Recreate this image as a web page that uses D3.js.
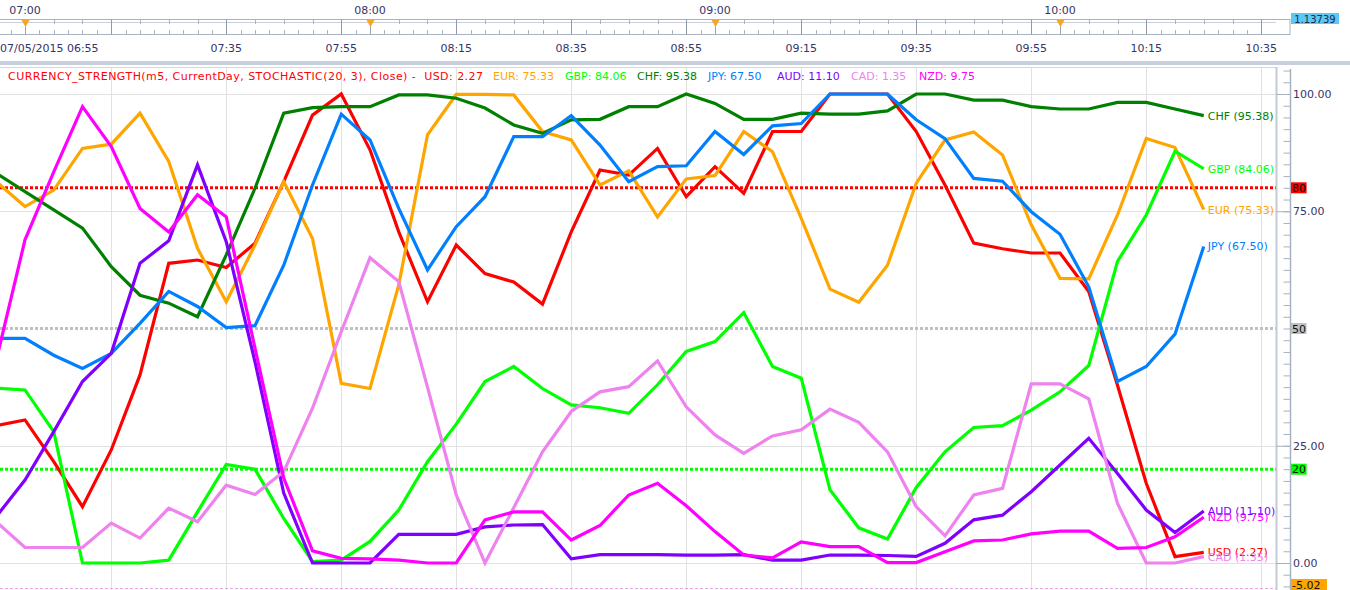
<!DOCTYPE html>
<html>
<head>
<meta charset="utf-8">
<script src="https://cdn.jsdelivr.net/npm/d3@7"></script>
<style>
  body { margin: 0; background: #fff; overflow: hidden; }
  text { font-family: "DejaVu Sans", Verdana, sans-serif; white-space: pre; }
</style>
</head>
<body>
<svg id="mainsvg" width="1350" height="590"></svg>
<script>
// values, one per 5 minute bar, 06:55 .. 10:25
const usd = [29.3, 30.5, 21.6, 12.0, 24.1, 40.1, 63.9, 64.6, 63.0, 68.2, 81.3, 95.5,
  100, 88.1, 70.6, 55.7, 67.8, 61.7, 59.9, 55.2, 70.6,
  83.8, 82.7, 88.4, 78.1, 84.5, 78.8, 92.0, 92.0, 100, 100, 100,
  92.0, 80.6, 68.2, 67.0, 66.1, 66.1, 57.9, 37.9, 17.0, 1.35, 2.27];
const eur = [81.3, 76.0, 79.5, 88.4, 89.3, 95.9, 85.6, 67.1, 55.7, 67.8, 81.3, 69.2,
  38.3, 37.2, 59.3, 91.3, 99.9, 99.9, 99.8, 92.0, 90.2,
  80.6, 83.6, 73.8, 81.9, 82.6, 92.0, 87.7, 73.5, 58.4, 55.6, 63.5,
  81.0, 90.2, 91.9, 87.0, 72.1, 60.7, 60.6, 74.2, 90.5, 88.6, 75.33];
const gbp = [37.3, 36.9, 28.0, 0, 0, 0, 0.6, 10.9, 21.0, 20.0, 9.5, 0.3,
  0.6, 4.6, 11.3, 21.6, 29.6, 38.7, 41.9, 37.2, 33.7,
  33.1, 31.9, 38.0, 45.1, 47.2, 53.4, 41.9, 39.4, 15.6, 7.5, 5.1,
  16.1, 23.7, 28.9, 29.3, 32.6, 36.5, 42.1, 64.3, 74.2, 87.8, 84.06];
const chf = [83.1, 79.2, 75.3, 71.4, 63.2, 57.1, 55.4, 52.5, 65.7, 79.9, 95.9, 97.1,
  97.3, 97.3, 99.8, 99.8, 99.1, 97.0, 93.4, 91.6, 94.5,
  94.6, 97.3, 97.3, 100, 98.0, 94.6, 94.6, 95.9, 95.7, 95.7, 96.4,
  100, 100, 98.7, 98.7, 97.3, 96.8, 96.8, 98.2, 98.2, 96.8, 95.38];
const jpy = [47.9, 47.9, 44.3, 41.5, 44.7, 51.1, 57.9, 54.7, 50.2, 50.6, 63.5, 80.6,
  95.7, 90.2, 75.6, 62.5, 71.7, 78.1, 90.9, 90.9, 95.4,
  89.1, 81.3, 84.5, 84.7, 92.0, 87.1, 93.2, 93.7, 100, 100, 100,
  94.5, 90.5, 82.0, 81.4, 74.9, 70.1, 58.9, 38.7, 41.9, 48.8, 67.50];
const aud = [9.9, 17.7, 28.0, 38.7, 44.7, 63.9, 68.7, 84.9, 68.5, 42.9, 14.9, 0,
  0, 0, 6.1, 6.1, 6.1, 7.7, 8.1, 8.2, 0.9,
  1.8, 1.8, 1.8, 1.7, 1.7, 1.8, 0.6, 0.6, 1.7, 1.7, 1.6,
  1.4, 4.2, 9.2, 10.2, 15.2, 20.9, 26.6, 19.1, 11.3, 6.5, 11.10];
const cad = [8.8, 3.3, 3.3, 3.3, 8.5, 5.3, 11.7, 8.8, 16.6, 14.6, 19.5, 33.0,
  49.3, 65.1, 60.0, 37.5, 14.5, 0, 11.8, 23.7, 32.3,
  36.5, 37.6, 43.1, 33.3, 27.3, 23.4, 27.1, 28.4, 32.8, 30.0, 23.7,
  12.0, 5.8, 14.5, 15.9, 38.2, 38.2, 35.0, 12.7, 0, 0, 1.35];
const nzd = [43.2, 68.9, 83.4, 97.3, 88.8, 75.6, 70.6, 78.5, 73.8, 45.8, 18.1, 2.6,
  1.0, 0.9, 0.6, 0, 0, 9.2, 10.9, 10.9, 4.9,
  8.0, 14.5, 17.0, 12.2, 6.7, 1.7, 1.1, 4.5, 3.5, 3.5, 0.1,
  0.1, 2.4, 4.7, 4.9, 6.2, 6.8, 6.8, 3.1, 3.3, 5.6, 9.75];

const currencies = ['USD', 'EUR', 'GBP', 'CHF', 'JPY', 'AUD', 'CAD', 'NZD'];
const seriesValues = [usd, eur, gbp, chf, jpy, aud, cad, nzd];
const levels = [80, 50, 20];
const axisLabels = [100, 75, 25, 0];
const lowValue = -5.02;
const priceLabel = '1.13739';
const dateLabel = '07/05/2015 06:55';
const indicatorName = 'CURRENCY_STRENGTH(m5, CurrentDay, STOCHASTIC(20, 3), Close) -  ';

(function () {
  const colors = ['#ff0000', '#ffa500', '#00ff00', '#008000', '#0080ff', '#8000ff', '#ee82ee', '#ff00ff'];
  const levelColors = ['#ff0000', '#c0c0c0', '#00ff00'];
  const headerX = [8, 493, 565, 637, 708, 777, 851, 919];
  const inkColor = '#34346a';

  const svg = d3.select('#mainsvg'),
    width = Number(svg.attr('width')),
    height = Number(svg.attr('height'));

  const panel = { left: 0, right: 1276, top: 67, bottom: 590 },
    axisX = 1290;

  const t0 = new Date(2015, 4, 7, 6, 55),
    tEnd = d3.timeMinute.offset(t0, 220);
  const times = usd.map((d, i) => d3.timeMinute.offset(t0, 5 * i));

  const xScale = d3.scaleTime().domain([t0, tEnd]).range([-3.75, 1261.25]);
  const yScale = d3.scaleLinear().domain([0, 100]).range([563, 94]);

  svg.append('rect').attr('width', width).attr('height', height).attr('fill', '#fff');

  // ---- time strip on top ----
  const strip = svg.append('g').attr('id', 'strip');
  const hours = d3.timeHour.range(new Date(2015, 4, 7, 7, 0), d3.timeMinute.offset(tEnd, 1));
  const twenty = d3.range(20, 221, 20).map(m => d3.timeMinute.offset(t0, m));
  const fives = d3.range(0, 221, 5).map(m => d3.timeMinute.offset(t0, m));
  const halfFives = d3.range(0, 221, 2.5).map(m => d3.timeSecond.offset(t0, m * 60));

  strip.selectAll('text.hour')
    .data(hours)
    .join('text')
    .attr('class', 'hour')
    .attr('x', d => xScale(d))
    .attr('y', 14)
    .attr('text-anchor', 'middle')
    .attr('font-size', '11px')
    .attr('fill', inkColor)
    .text(d3.timeFormat('%H:%M'));

  strip.append('rect')
    .attr('x', -1).attr('y', 19.5).attr('width', axisX + 1).attr('height', 15)
    .attr('fill', '#fff').attr('stroke', '#a9b3bf');
  strip.append('line')
    .attr('x1', 0).attr('x2', panel.right).attr('y1', 22.5).attr('y2', 22.5)
    .attr('stroke', '#c9d0d9');

  strip.selectAll('line.bt')
    .data(halfFives.filter(d => xScale(d) < panel.right))
    .join('line')
    .attr('class', 'bt')
    .attr('x1', d => Math.round(xScale(d)) + 0.5).attr('x2', d => Math.round(xScale(d)) + 0.5)
    .attr('y1', 30).attr('y2', 34.5)
    .attr('stroke', '#aab3be');
  strip.selectAll('line.tt')
    .data(fives.filter(d => xScale(d) < panel.right))
    .join('line')
    .attr('class', 'tt')
    .attr('x1', d => Math.round(xScale(d)) + 0.5).attr('x2', d => Math.round(xScale(d)) + 0.5)
    .attr('y1', 19.5).attr('y2', 24)
    .attr('stroke', '#aab3be');
  strip.selectAll('line.mt')
    .data(twenty)
    .join('line')
    .attr('class', 'mt')
    .attr('x1', d => Math.round(xScale(d)) + 0.5).attr('x2', d => Math.round(xScale(d)) + 0.5)
    .attr('y1', 19.5).attr('y2', 34.5)
    .attr('stroke', '#8e98a6');

  hours.forEach(h => {
    const hx = Math.round(xScale(h)) + 0.5;
    strip.append('line').attr('x1', hx).attr('x2', hx).attr('y1', 26).attr('y2', 34.5).attr('stroke', '#9aa3ae');
    strip.append('path')
      .attr('d', `M${hx - 4},20 L${hx + 4},20 L${hx},27 Z`)
      .attr('fill', '#f5a623');
  });

  strip.append('rect')
    .attr('x', 1291).attr('y', 13).attr('width', 48).attr('height', 11)
    .attr('fill', '#5cc8f6');
  strip.append('text')
    .attr('x', 1315).attr('y', 22.5).attr('text-anchor', 'middle')
    .attr('font-size', '10px').attr('fill', '#1e2a4a')
    .text(priceLabel);

  strip.append('text')
    .attr('x', 0).attr('y', 52)
    .attr('font-size', '11px').attr('fill', inkColor)
    .text(dateLabel);
  strip.selectAll('text.tl')
    .data(twenty.slice(1))
    .join('text')
    .attr('class', 'tl')
    .attr('x', d => xScale(d))
    .attr('y', 52)
    .attr('text-anchor', 'middle')
    .attr('font-size', '11px')
    .attr('fill', inkColor)
    .text(d3.timeFormat('%H:%M'));

  svg.append('rect')
    .attr('x', 0).attr('y', 61).attr('width', width).attr('height', 4)
    .attr('fill', '#c6cfdb');

  // ---- indicator panel ----
  svg.append('clipPath').attr('id', 'clip')
    .append('rect')
    .attr('x', panel.left).attr('y', panel.top)
    .attr('width', panel.right - panel.left).attr('height', panel.bottom - panel.top);

  const g = svg.append('g').attr('id', 'maingroup').attr('clip-path', 'url(#clip)');

  g.selectAll('line.vg')
    .data(twenty)
    .join('line')
    .attr('class', 'vg')
    .attr('x1', d => Math.round(xScale(d)) + 0.5).attr('x2', d => Math.round(xScale(d)) + 0.5)
    .attr('y1', panel.top).attr('y2', panel.bottom)
    .attr('stroke', '#e1e1e1');
  g.selectAll('line.hg')
    .data(axisLabels)
    .join('line')
    .attr('class', 'hg')
    .attr('x1', panel.left).attr('x2', panel.right)
    .attr('y1', d => Math.round(yScale(d)) + 0.5).attr('y2', d => Math.round(yScale(d)) + 0.5)
    .attr('stroke', '#e1e1e1');

  levels.forEach((lv, k) => {
    g.append('line')
      .attr('x1', panel.left).attr('x2', panel.right)
      .attr('y1', yScale(lv)).attr('y2', yScale(lv))
      .attr('stroke', levelColors[k])
      .attr('stroke-width', 3)
      .attr('stroke-dasharray', '3,2');
  });

  g.append('line')
    .attr('x1', panel.left).attr('x2', panel.right)
    .attr('y1', 588.5).attr('y2', 588.5)
    .attr('stroke', '#f0a0f0').attr('stroke-dasharray', '3,2');

  const line = d3.line()
    .x((d, i) => xScale(times[i]))
    .y(d => yScale(d));

  seriesValues.forEach((vals, k) => {
    g.append('path')
      .attr('d', line(vals))
      .attr('fill', 'none')
      .attr('stroke', colors[k])
      .attr('stroke-width', 3.2)
      .attr('stroke-linejoin', 'miter');
  });

  seriesValues.forEach((vals, k) => {
    const last = vals[vals.length - 1];
    g.append('text')
      .attr('x', xScale(times[times.length - 1]) + 4)
      .attr('y', yScale(last) + 4)
      .attr('font-size', '11px')
      .attr('fill', colors[k])
      .text(`${currencies[k]} (${last.toFixed(2)})`);
  });

  // panel frame
  svg.append('line')
    .attr('x1', 0).attr('x2', panel.right + 1).attr('y1', panel.top + 0.5).attr('y2', panel.top + 0.5)
    .attr('stroke', '#d3d8df');
  svg.append('line')
    .attr('x1', panel.right + 0.5).attr('x2', panel.right + 0.5).attr('y1', panel.top).attr('y2', panel.bottom)
    .attr('stroke', '#c3cad4').attr('stroke-width', 2);

  // header
  const header = svg.append('g').attr('font-size', '11px');
  header.append('text')
    .attr('x', headerX[0]).attr('y', 80)
    .attr('fill', colors[0])
    .attr('textLength', headerX[1] - headerX[0] - 10)
    .attr('lengthAdjust', 'spacing')
    .text(indicatorName + `${currencies[0]}: ${usd[usd.length - 1].toFixed(2)}`);
  seriesValues.slice(1).forEach((vals, k) => {
    header.append('text')
      .attr('x', headerX[k + 1]).attr('y', 80)
      .attr('fill', colors[k + 1])
      .text(`${currencies[k + 1]}: ${vals[vals.length - 1].toFixed(2)}`);
  });

  // right value axis
  const minorAxis = d3.axisLeft(yScale)
    .tickValues(d3.range(-5, 105.1, 2.5))
    .tickSize(7)
    .tickFormat('');
  const ax = svg.append('g').attr('transform', `translate(${axisX + 0.5},0)`).call(minorAxis);
  ax.select('.domain').remove();
  ax.selectAll('line').attr('stroke', '#a7b2c1');
  const majorAxis = d3.axisLeft(yScale).tickValues(axisLabels).tickSize(14).tickFormat('');
  const ax2 = svg.append('g').attr('transform', `translate(${axisX + 0.5},0)`).call(majorAxis);
  ax2.select('.domain').remove();
  ax2.selectAll('line').attr('stroke', '#a7b2c1');
  svg.append('line')
    .attr('x1', axisX + 0.5).attr('x2', axisX + 0.5).attr('y1', 69).attr('y2', height)
    .attr('stroke', '#a7b2c1').attr('stroke-width', 1.5);

  svg.selectAll('text.yl')
    .data(axisLabels)
    .join('text')
    .attr('class', 'yl')
    .attr('x', 1293)
    .attr('y', d => yScale(d) + 4)
    .attr('font-size', '11px')
    .attr('fill', inkColor)
    .text(d => d.toFixed(2));

  const tags = levels.map((lv, k) => ({ v: lv, text: String(lv), fill: levelColors[k] }))
    .concat([{ v: lowValue, text: lowValue.toFixed(2), fill: '#ffa500' }]);
  tags.forEach(t => {
    const ty = Math.min(yScale(t.v), 584.5);
    const tw = t.text.length * 6.8 + 2;
    svg.append('rect')
      .attr('x', 1291).attr('y', ty - 5.5).attr('width', tw).attr('height', 11)
      .attr('fill', t.fill);
    svg.append('text')
      .attr('x', 1292).attr('y', ty + 4)
      .attr('font-size', '11px')
      .attr('fill', '#111')
      .text(t.text);
  });
})();
</script>
</body>
</html>
